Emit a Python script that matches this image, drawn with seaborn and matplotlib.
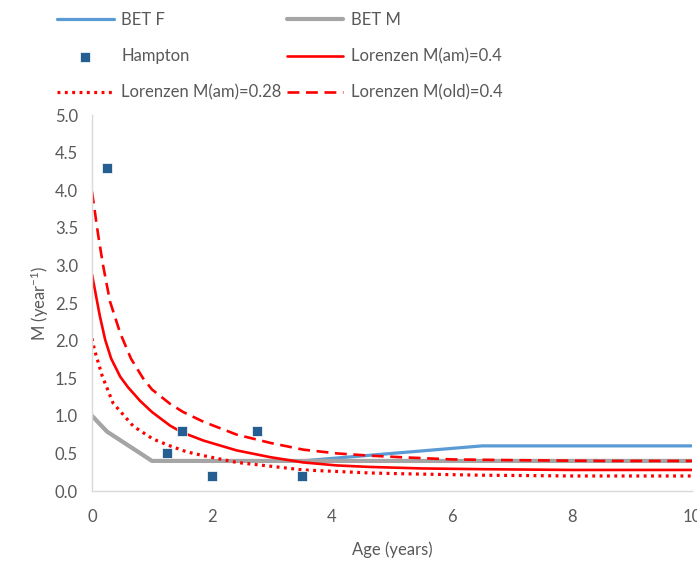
import matplotlib
matplotlib.use("Agg")
import matplotlib.pyplot as plt
import seaborn as sns

# BET (female / male) natural mortality at age
age_bet_f = [0, 0.25, 1.0, 3.5, 6.5, 10]
m_bet_f = [1.0, 0.79, 0.4, 0.4, 0.6, 0.6]
age_bet_m = [0, 0.25, 1.0, 10]
m_bet_m = [1.0, 0.79, 0.4, 0.4]

# Hampton estimates
age_hampton = [0.25, 1.25, 1.5, 2.0, 2.75, 3.5]
m_hampton = [4.3, 0.5, 0.8, 0.2, 0.8, 0.2]

# Lorenzen curves
age_lor_04 = [0, 0.13, 0.22, 0.32, 0.47, 0.6, 0.8, 1.0, 1.3, 1.5, 1.86, 2.41,
              2.97, 3.52, 4.08, 4.63, 5.5, 6.5, 8, 10]
m_lor_04 = [2.88, 2.33, 2.01, 1.76, 1.52, 1.38, 1.2, 1.05, 0.87, 0.78, 0.67, 0.54,
            0.45, 0.38, 0.34, 0.32, 0.30, 0.29, 0.28, 0.28]

age_lor_028 = [0, 0.04, 0.1, 0.17, 0.35, 0.69, 1.02, 1.3, 1.58, 1.86, 2.41, 2.97,
               3.52, 4.63, 5.13, 6.5, 8, 10]
m_lor_028 = [2.03, 1.88, 1.72, 1.53, 1.17, 0.86, 0.69, 0.6, 0.52, 0.47, 0.38, 0.33,
             0.28, 0.24, 0.23, 0.21, 0.20, 0.20]

age_lor_old = [0, 0.1, 0.18, 0.3, 0.47, 0.65, 0.85, 1.0, 1.3, 1.52, 1.86, 2.41,
               2.97, 3.52, 4.08, 4.63, 5.13, 6.0, 7.0, 8.5, 10]
m_lor_old = [3.98, 3.42, 3.02, 2.52, 2.1, 1.76, 1.5, 1.35, 1.16, 1.05, 0.92, 0.75,
             0.64, 0.55, 0.50, 0.47, 0.45, 0.42, 0.41, 0.40, 0.40]

sns.set_style("white")
plt.rcParams["font.family"] = ["Lato", "DejaVu Sans"]
plt.rcParams["mathtext.default"] = "regular"
txt = "#595959"

fig = plt.figure(figsize=(6.97, 5.61), dpi=100)
ax = fig.add_axes([92 / 697, 1 - 491 / 561, 600 / 697, 376 / 561])

red = "#FF0000"
sns.lineplot(x=age_bet_f, y=m_bet_f, ax=ax, color="#5B9BD5", linewidth=2.3,
             label="BET F", sort=False)
sns.lineplot(x=age_bet_m, y=m_bet_m, ax=ax, color="#A5A5A5", linewidth=3.0,
             label="BET M", sort=False)
sns.scatterplot(x=age_hampton, y=m_hampton, ax=ax, color="#255E91", marker="s",
                s=60, linewidth=0.5, edgecolor="white", label="Hampton", zorder=5)
sns.lineplot(x=age_lor_04, y=m_lor_04, ax=ax, color=red, linewidth=1.9,
             label="Lorenzen M(am)=0.4", sort=False)
sns.lineplot(x=age_lor_028, y=m_lor_028, ax=ax, color=red, linewidth=2.3,
             linestyle=(0, (0.9, 1.4)), label="Lorenzen M(am)=0.28", sort=False)
sns.lineplot(x=age_lor_old, y=m_lor_old, ax=ax, color=red, linewidth=1.9,
             linestyle=(0, (4.5, 2.5)), label="Lorenzen M(old)=0.4", sort=False)

ax.set_xlim(0, 10)
ax.set_ylim(0, 5)
ax.set_xticks([0, 2, 4, 6, 8, 10])
ax.set_yticks([i * 0.5 for i in range(11)])
ax.set_yticklabels([f"{i * 0.5:.1f}" for i in range(11)])
ax.tick_params(axis="both", length=0, labelsize=12, labelcolor=txt)
ax.tick_params(axis="x", pad=13)
ax.tick_params(axis="y", pad=10)
for side in ["top", "right"]:
    ax.spines[side].set_visible(False)
for side in ["left", "bottom"]:
    ax.spines[side].set_color("#D9D9D9")
    ax.spines[side].set_linewidth(1.0)
ax.set_xlabel("Age (years)", fontsize=12, color=txt, labelpad=12)
ax.set_ylabel("M (year$^{-1}$)", fontsize=12, color=txt, labelpad=3)

handles, labels = ax.get_legend_handles_labels()
order = ["BET F", "Hampton", "Lorenzen M(am)=0.28",
         "BET M", "Lorenzen M(am)=0.4", "Lorenzen M(old)=0.4"]
hmap = dict(zip(labels, handles))
ax.get_legend().remove()
leg = fig.legend([hmap[k] for k in order], order, ncol=2, loc="upper left",
                 bbox_to_anchor=(57 / 697, 1 - 12 / 561), frameon=False,
                 fontsize=12, handlelength=3.4, handletextpad=0.45,
                 columnspacing=0.3, labelspacing=1.22, borderpad=0,
                 borderaxespad=0)
for t in leg.get_texts():
    t.set_color(txt)

fig.savefig("out.png", dpi=100)
